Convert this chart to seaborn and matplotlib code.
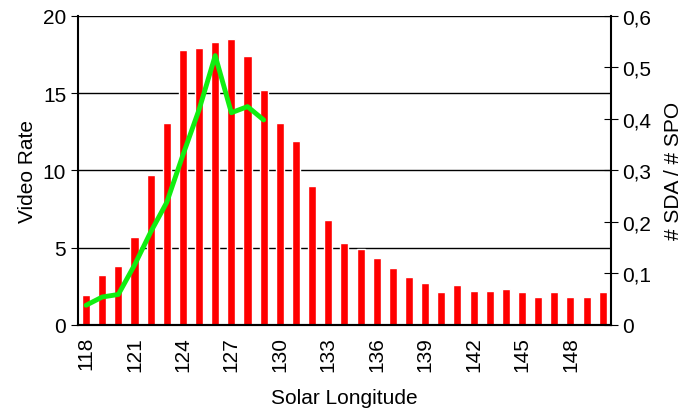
import numpy as np
import pandas as pd
import matplotlib
matplotlib.use("Agg")
import matplotlib.pyplot as plt
import seaborn as sns

# solar longitude bins and video meteor rate
sol = list(range(118, 151))
video_rate = [1.9, 3.2, 3.8, 5.7, 9.7, 13.1, 17.8, 17.9, 18.3, 18.5, 17.4, 15.2,
              13.1, 11.9, 9.0, 6.8, 5.3, 4.9, 4.3, 3.7, 3.1, 2.7, 2.1, 2.6,
              2.2, 2.2, 2.3, 2.1, 1.8, 2.1, 1.8, 1.8, 2.1]

# ratio of SDA to SPO meteors (only the first bins)
ratio_sol = list(range(118, 130))
ratio = [0.038, 0.054, 0.059, 0.116, 0.18, 0.238, 0.33, 0.418, 0.523, 0.412, 0.424, 0.398]

sns.set_style("white")
plt.rcParams['font.family'] = ['Liberation Sans', 'DejaVu Sans']
plt.rcParams['font.size'] = 15
plt.rcParams['text.color'] = 'black'
plt.rcParams['axes.labelcolor'] = 'black'
plt.rcParams['xtick.color'] = 'black'
plt.rcParams['ytick.color'] = 'black'

df = pd.DataFrame({"sol": sol, "rate": video_rate})
df_r = pd.DataFrame({"pos": [s - sol[0] for s in ratio_sol], "ratio": ratio})

fig, ax = plt.subplots(figsize=(6.84, 4.14), dpi=100)
fig.subplots_adjust(left=0.114, right=0.893, top=0.959, bottom=0.213)

sns.barplot(data=df, x="sol", y="rate", color="#ff0000", saturation=1,
            width=0.5, ax=ax, zorder=3)
ax.set_ylim(0, 20)
ax.set_yticks([0, 5, 10, 15, 20])
ax.set_xlim(-0.5, len(sol) - 0.5)
ax.yaxis.grid(True, color="black", linewidth=1)
ax.set_axisbelow(True)
ax.set_xticks(range(0, len(sol), 3))
ax.set_xticklabels([str(s) for s in sol[::3]], rotation=90)
ax.set_xticks(np.arange(-0.5, len(sol), 1), minor=True)
ax.tick_params(axis="x", which="major", length=0, pad=8)
ax.tick_params(axis="x", which="minor", length=5, color="#808080", direction="out")
ax.tick_params(axis="y", length=5, direction="out", left=True, color="black")
ax.set_xlabel("Solar Longitude", labelpad=12)
ax.set_ylabel("Video Rate")
for s in ["left", "bottom"]:
    ax.spines[s].set_color("black")
    ax.spines[s].set_linewidth(1.5)
    ax.spines[s].set_zorder(5)
ax.spines["top"].set_visible(False)
ax.spines["right"].set_visible(False)

ax2 = ax.twinx()
sns.lineplot(data=df_r, x="pos", y="ratio", color="#11ee11", linewidth=3.5, ax=ax2)
ax2.set_ylim(0, 0.6)
ax2.set_yticks(np.arange(0, 0.61, 0.1))
ax2.set_yticklabels(["0"] + [f"0,{i}" for i in range(1, 7)])
ax2.tick_params(axis="y", length=10, direction="inout", right=True, color="black")
ax2.set_ylabel("# SDA / # SPO", labelpad=9)
ax2.spines["bottom"].set_color("black")
ax2.spines["bottom"].set_linewidth(1.5)
for s in ["left", "top"]:
    ax2.spines[s].set_visible(False)
ax2.spines["right"].set_color("black")
ax2.spines["right"].set_linewidth(1.5)
ax2.set_xlim(-0.5, len(sol) - 0.5)

fig.savefig("out.png", dpi=100)
